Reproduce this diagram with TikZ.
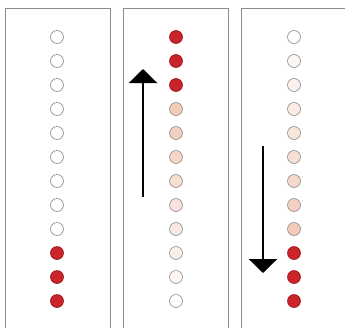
\documentclass[tikz,border=0pt]{standalone}
\usepackage{tikz}
\usetikzlibrary{arrows.meta}
\definecolor{dotred}{RGB}{204,34,41}
\definecolor{dotpeach}{RGB}{236,180,155}
\definecolor{framegray}{HTML}{8C8C8C}
\tikzset{
  seq frame/.style={draw=framegray,line width=.9pt},
  seq dot/.style={circle,draw=gray!90,line width=.6pt,minimum size=13pt,inner sep=0pt},
  seq hot/.style={seq dot,fill=dotred,draw=dotred!70!black},
  seq arrow/.style={line width=2.6pt,-{Triangle[width=28pt,length=14pt]}}
}
\begin{document}
\begin{tikzpicture}[x=1pt,y=-1pt]
  \useasboundingbox (0,0) rectangle (345,327);
  \clip (0,0) rectangle (345,327);
  % three open-bottom frames
  \foreach \l/\r in {5/110,123/228,241/360}{
    \draw[seq frame] (\l,340)--(\l,8)--(\r,8)--(\r,340);
  }
  % left: three hot dots at the bottom
  \foreach \i in {1,...,12}{
    \ifnum\i>9
      \node[seq hot] (a\i) at (57,13+24*\i) {};
    \else
      \node[seq dot,fill=white] (a\i) at (57,13+24*\i) {};
    \fi
  }
  % middle: hot dots moved to the top
  \foreach \i/\p in {1/100,2/100,3/100,4/70,5/62,6/54,7/46,8/38,9/30,10/21,11/11,12/0}{
    \ifnum\p=100
      \node[seq hot] (b\i) at (176,13+24*\i) {};
    \else
      \node[seq dot,fill=dotpeach!\p!white] (b\i) at (176,13+24*\i) {};
    \fi
  }
  % right: hot dots back at the bottom
  \foreach \i/\p in {1/3,2/11,3/19,4/27,5/35,6/43,7/52,8/61,9/70,10/100,11/100,12/100}{
    \ifnum\p=100
      \node[seq hot] (c\i) at (294,13+24*\i) {};
    \else
      \node[seq dot,fill=dotpeach!\p!white] (c\i) at (294,13+24*\i) {};
    \fi
  }
  \coordinate (upfrom) at (143,197);
  \coordinate (upto) at (143,69);
  \coordinate (downfrom) at (263,146);
  \coordinate (downto) at (263,273);
  \draw[seq arrow] (upfrom)--(upto);
  \draw[seq arrow] (downfrom)--(downto);
\end{tikzpicture}
\end{document}
